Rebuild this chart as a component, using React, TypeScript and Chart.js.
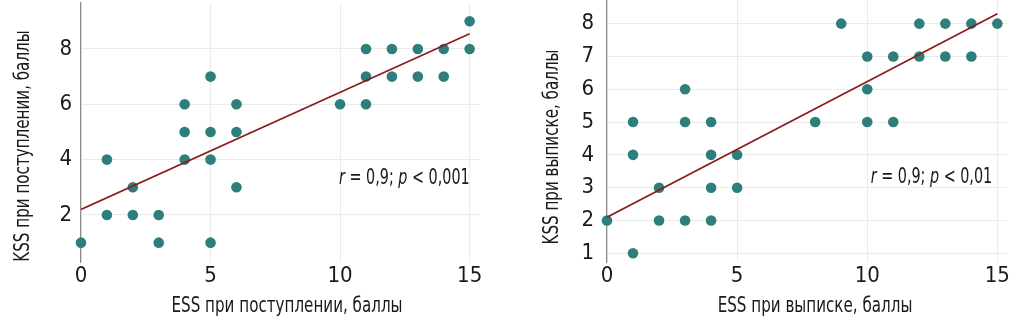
import React, { useEffect, useRef } from "react";
import { Chart, registerables } from "chart.js";

Chart.register(...registerables);

// ---- data ----
const admissionESS = [0, 1, 1, 2, 2, 3, 3, 4, 4, 4, 5, 5, 5, 5, 6, 6, 6, 10, 11, 11, 11, 12, 12, 13, 13, 14, 14, 15, 15];
const admissionKSS = [1, 4, 2, 3, 2, 2, 1, 6, 5, 4, 7, 5, 4, 1, 6, 5, 3, 6, 8, 7, 6, 8, 7, 8, 7, 8, 7, 9, 8];
const dischargeESS = [0, 1, 1, 1, 2, 2, 3, 3, 3, 4, 4, 4, 4, 5, 5, 8, 9, 10, 10, 10, 11, 11, 12, 12, 13, 13, 14, 14, 15];
const dischargeKSS = [2, 5, 4, 1, 3, 2, 6, 5, 2, 5, 4, 3, 2, 4, 3, 5, 8, 7, 6, 5, 7, 5, 8, 7, 8, 7, 8, 7, 8];
const fitX = [0, 15];
const admissionFitY = [2.2, 8.55];
const dischargeFitY = [2.1, 8.3];
const xTicks = [0, 5, 10, 15];
const admissionYTicks = [2, 4, 6, 8];
const dischargeYTicks = [1, 2, 3, 4, 5, 6, 7, 8];
const admissionXTitle = "ESS при поступлении, баллы";
const admissionYTitle = "KSS при поступлении, баллы";
const dischargeXTitle = "ESS при выписке, баллы";
const dischargeYTitle = "KSS при выписке, баллы";
const admissionStat = ["r", " = 0,9; ", "p", " < 0,001"];
const dischargeStat = ["r", " = 0,9; ", "p", " < 0,01"];

const FONT = "'DejaVu Sans Condensed', 'Liberation Sans Narrow', 'Liberation Sans', sans-serif";
const POINT = "#2e7f7b";
const LINE = "#8b1a1a";
const GRID = "#ebebeb";
const TEXT = "#1a1a1a";
const TITLE_SQUEEZE = 0.765;
const STAT_SQUEEZE = 0.725;

type PanelCfg = {
  xs: number[];
  ys: number[];
  fitY: number[];
  yTicks: number[];
  xTitle: string;
  yTitle: string;
  stat: string[];
  yMin: number;
  yMax: number;
  xMax: number;
  yScaleWidth: number;
  padRight: number;
  padTop: number;
  yTickPad: number;
  xTitleX: number;
  yTitleX: number;
  yTitleY: number;
  statX: number;
  statY: number;
};

function makeChart(canvas: HTMLCanvasElement, p: PanelCfg) {
  const points = p.xs.map((x, i) => ({ x, y: p.ys[i] }));
  const fit = fitX.map((x, i) => ({ x, y: p.fitY[i] }));
  const tickSize = 22;
  const textSize = 22;

  const overlay = {
    id: "overlay",
    afterDatasetsDraw(chart: any) {
      const { ctx, scales } = chart;
      ctx.save();
      ctx.fillStyle = TEXT;
      ctx.textBaseline = "middle";
      // stat annotation, right aligned at a data position
      const px = scales.x.getPixelForValue(p.statX);
      const py = scales.y.getPixelForValue(p.statY);
      const fonts = p.stat.map((_, i) => (i % 2 === 0 ? `italic ${textSize}px ${FONT}` : `${textSize}px ${FONT}`));
      const widths = p.stat.map((s, i) => {
        ctx.font = fonts[i];
        return ctx.measureText(s).width;
      });
      const total = widths.reduce((a, b) => a + b, 0);
      ctx.save();
      ctx.translate(px, py);
      ctx.scale(STAT_SQUEEZE, 1);
      let x = -total;
      p.stat.forEach((s, i) => {
        ctx.font = fonts[i];
        ctx.textAlign = "left";
        ctx.fillText(s, x, 0);
        x += widths[i];
      });
      ctx.restore();
      // axis titles
      ctx.font = `${textSize}px ${FONT}`;
      ctx.textAlign = "center";
      ctx.save();
      ctx.translate(p.xTitleX, 306);
      ctx.scale(TITLE_SQUEEZE, 1);
      ctx.fillText(p.xTitle, 0, 0);
      ctx.restore();
      ctx.save();
      ctx.translate(p.yTitleX, p.yTitleY);
      ctx.rotate(-Math.PI / 2);
      ctx.scale(TITLE_SQUEEZE, 1);
      ctx.fillText(p.yTitle, 0, 0);
      ctx.restore();
      ctx.restore();
    },
  };

  return new Chart(canvas, {
    type: "scatter",
    data: {
      datasets: [
        {
          type: "line",
          data: fit,
          borderColor: LINE,
          borderWidth: 1.6,
          pointRadius: 0,
          fill: false,
          order: 0,
        } as any,
        {
          data: points,
          backgroundColor: POINT,
          borderWidth: 0,
          pointRadius: 5.3,
          pointHoverRadius: 5.3,
          clip: false,
          order: 1,
        } as any,
      ],
    },
    options: {
      responsive: false,
      animation: false,
      events: [],
      layout: { autoPadding: false, padding: { left: 0, top: p.padTop, right: p.padRight, bottom: 0 } },
      plugins: { legend: { display: false }, tooltip: { enabled: false } },
      scales: {
        x: {
          type: "linear",
          min: 0,
          max: p.xMax,
          afterBuildTicks: (s: any) => {
            s.ticks = xTicks.map((v) => ({ value: v }));
          },
          afterFit: (s: any) => {
            s.height = 62;
            s.paddingLeft = 0;
            s.paddingRight = 0;
          },
          grid: { color: GRID, lineWidth: 1, drawTicks: false },
          border: { display: false },
          ticks: { color: TEXT, font: { family: FONT, size: tickSize }, padding: 1, maxRotation: 0 },
        },
        y: {
          type: "linear",
          min: p.yMin,
          max: p.yMax,
          afterBuildTicks: (s: any) => {
            s.ticks = p.yTicks.map((v) => ({ value: v }));
          },
          afterFit: (s: any) => {
            s.width = p.yScaleWidth;
            s.paddingTop = 0;
            s.paddingBottom = 0;
          },
          grid: { color: GRID, lineWidth: 1, drawTicks: false },
          border: { display: true, color: "#8c8c8c", width: 1.2 },
          ticks: { color: TEXT, font: { family: FONT, size: tickSize }, padding: p.yTickPad },
        },
      },
    },
    plugins: [overlay],
  } as any);
}

const leftCfg: PanelCfg = {
  xs: admissionESS,
  ys: admissionKSS,
  fitY: admissionFitY,
  yTicks: admissionYTicks,
  xTitle: admissionXTitle,
  yTitle: admissionYTitle,
  stat: admissionStat,
  yMin: 0.3,
  yMax: 9.66,
  xMax: 15.4,
  yScaleWidth: 81,
  padRight: 25,
  padTop: 3,
  yTickPad: 9,
  xTitleX: 287,
  yTitleX: 23,
  yTitleY: 146,
  statX: 15,
  statY: 3.33,
};

const rightCfg: PanelCfg = {
  xs: dischargeESS,
  ys: dischargeKSS,
  fitY: dischargeFitY,
  yTicks: dischargeYTicks,
  xTitle: dischargeXTitle,
  yTitle: dischargeYTitle,
  stat: dischargeStat,
  yMin: 0.735,
  yMax: 8.72,
  xMax: 15.37,
  yScaleWidth: 102,
  padRight: 17,
  padTop: 0,
  yTickPad: 13,
  xTitleX: 815 - 505,
  yTitleX: 552 - 505,
  yTitleY: 147,
  statX: 14.8,
  statY: 3.33,
};

export default function App() {
  const leftRef = useRef<HTMLCanvasElement>(null);
  const rightRef = useRef<HTMLCanvasElement>(null);

  useEffect(() => {
    const a = makeChart(leftRef.current!, leftCfg);
    const b = makeChart(rightRef.current!, rightCfg);
    return () => {
      a.destroy();
      b.destroy();
    };
  }, []);

  return (
    <div style={{ position: "absolute", left: 0, top: 0, width: 1024, height: 324, background: "#fff" }}>
      <canvas ref={leftRef} width={505} height={324} style={{ position: "absolute", left: 0, top: 0 }} />
      <canvas ref={rightRef} width={519} height={324} style={{ position: "absolute", left: 505, top: 0 }} />
    </div>
  );
}
